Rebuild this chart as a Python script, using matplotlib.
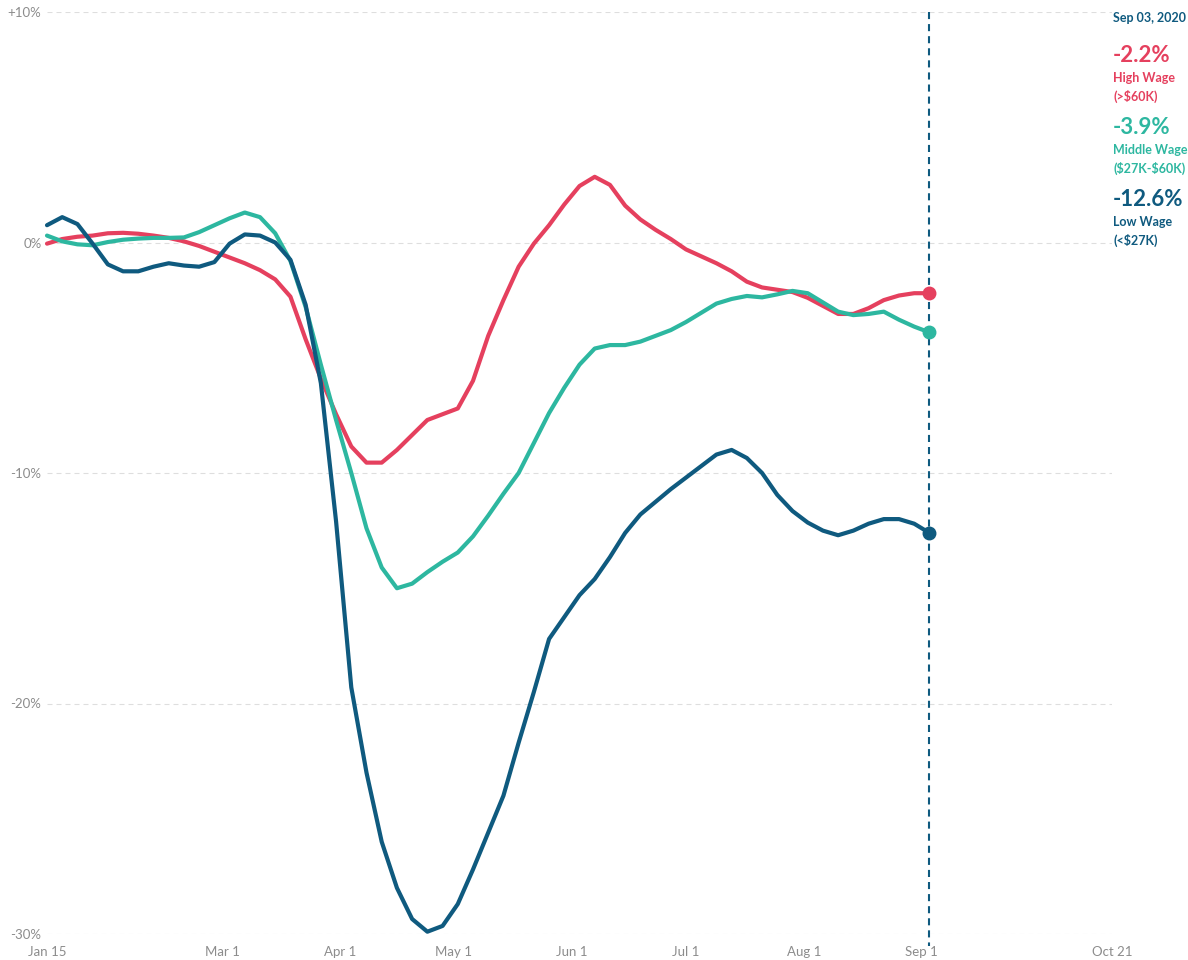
import pandas as pd
import matplotlib
matplotlib.use("Agg")
import matplotlib.pyplot as plt

# Employment change vs. January baseline, sampled every 4 days
dates = pd.date_range("2020-01-15", "2020-09-03", freq="4D")

high_wage = [
    -0.05, 0.15, 0.25, 0.3, 0.4, 0.42, 0.38, 0.3, 0.2, 0.05,
    -0.15, -0.4, -0.65, -0.9, -1.2, -1.6, -2.35, -4.2, -5.9, -7.45,
    -8.85, -9.55, -9.55, -9.0, -8.35, -7.7, -7.45, -7.2, -6.0, -4.05,
    -2.5, -1.05, -0.05, 0.75, 1.65, 2.45, 2.85, 2.5, 1.6, 1.0,
    0.55, 0.15, -0.3, -0.6, -0.9, -1.25, -1.7, -1.95, -2.05, -2.15,
    -2.4, -2.75, -3.1, -3.1, -2.85, -2.5, -2.3, -2.2, -2.2,
]
middle_wage = [
    0.3, 0.05, -0.08, -0.12, 0.02, 0.12, 0.17, 0.2, 0.2, 0.22,
    0.45, 0.75, 1.05, 1.3, 1.1, 0.4, -0.8, -2.8, -5.3, -7.7,
    -10.0, -12.4, -14.1, -15.0, -14.8, -14.3, -13.85, -13.45, -12.75, -11.85,
    -10.9, -10.0, -8.7, -7.4, -6.3, -5.3, -4.6, -4.45, -4.45, -4.3,
    -4.05, -3.8, -3.45, -3.05, -2.65, -2.45, -2.32, -2.38, -2.25, -2.1,
    -2.2, -2.6, -3.0, -3.15, -3.1, -3.0, -3.35, -3.65, -3.9,
]
low_wage = [
    0.75, 1.1, 0.8, -0.05, -0.95, -1.25, -1.25, -1.05, -0.9, -1.0,
    -1.05, -0.85, -0.05, 0.35, 0.3, 0.0, -0.75, -2.7, -6.1, -12.1,
    -19.3, -23.0, -26.0, -28.0, -29.35, -29.9, -29.65, -28.7, -27.2, -25.6,
    -24.0, -21.7, -19.5, -17.2, -16.25, -15.3, -14.6, -13.65, -12.6, -11.8,
    -11.25, -10.7, -10.2, -9.7, -9.2, -9.0, -9.35, -10.0, -10.95, -11.65,
    -12.15, -12.5, -12.7, -12.5, -12.2, -12.0, -12.0, -12.2, -12.6,
]

series_names = ["High Wage", "Middle Wage", "Low Wage"]
series_ranges = [r"(>\$60K)", r"(\$27K-\$60K)", r"(<\$27K)"]
series_colors = ["#e5405e", "#2db7a0", "#0f5a7f"]

tick_dates = pd.to_datetime([
    "2020-01-15", "2020-03-01", "2020-04-01", "2020-05-01", "2020-06-01",
    "2020-07-01", "2020-08-01", "2020-09-01", "2020-10-21",
])
tick_labels = ["Jan 15", "Mar 1", "Apr 1", "May 1", "Jun 1",
               "Jul 1", "Aug 1", "Sep 1", "Oct 21"]
y_ticks = [10, 0, -10, -20, -30]
y_labels = ["+10%", "0%", "-10%", "-20%", "-30%"]

W, H = 1188, 960
fig = plt.figure(figsize=(W / 100, H / 100), dpi=100)
ax = fig.add_axes([47 / W, (H - 934) / H, (1112 - 47) / W, (934 - 12) / H])

ax.set_xlim(tick_dates[0], tick_dates[-1])
ax.set_ylim(-30, 10)

# dashed horizontal grid
for yv in y_ticks:
    ax.axhline(yv, color="#dedede", lw=0.8, dashes=(4.5, 3.6), zorder=0)

for sp in ax.spines.values():
    sp.set_visible(False)

tick_font = ["Liberation Sans Narrow", "Lato"]
ax.set_xticks(tick_dates)
ax.set_xticklabels(tick_labels, fontsize=9.5, color="#8c8c8c", family=tick_font)
ax.set_yticks(y_ticks)
ax.set_yticklabels(y_labels, fontsize=9.5, color="#8c8c8c", family=tick_font)
ax.tick_params(axis="x", length=0, pad=9)
ax.tick_params(axis="y", length=0, pad=4)

# marker line for the latest date
last_date = dates[-1]
ax.plot([last_date, last_date], [10, -30.5], color=series_colors[2], lw=1.5,
        dashes=(3.4, 2.4), clip_on=False, zorder=3)

all_series = [high_wage, middle_wage, low_wage]
for i, (vals, col) in enumerate(zip(all_series, series_colors)):
    ax.plot(dates, vals, color=col, lw=3, solid_capstyle="round",
            solid_joinstyle="round", zorder=4 + i, clip_on=False)
    ax.plot(dates[-1], vals[-1], "o", color=col, ms=9, zorder=8, clip_on=False)

# side panel with latest values
tx = 1113 / W
fig.text(tx, 1 - 18 / H, last_date.strftime("%b %d, %Y"), color=series_colors[2],
         fontsize=9, fontweight="bold", family="Lato", va="center")
blocks = [56, 128, 200]
for top, vals, name, rng, col in zip(blocks, all_series, series_names,
                                     series_ranges, series_colors):
    fig.text(tx, 1 - top / H, f"{vals[-1]:.1f}%", color=col, fontsize=16,
             fontweight="bold", family="Lato", va="center")
    fig.text(tx, 1 - (top + 22) / H, name, color=col, fontsize=9,
             fontweight="bold", family="Lato", va="center")
    fig.text(tx, 1 - (top + 40) / H, rng, color=col, fontsize=9,
             fontweight="bold", family="Lato", va="center")

fig.savefig("out.png", dpi=100)
